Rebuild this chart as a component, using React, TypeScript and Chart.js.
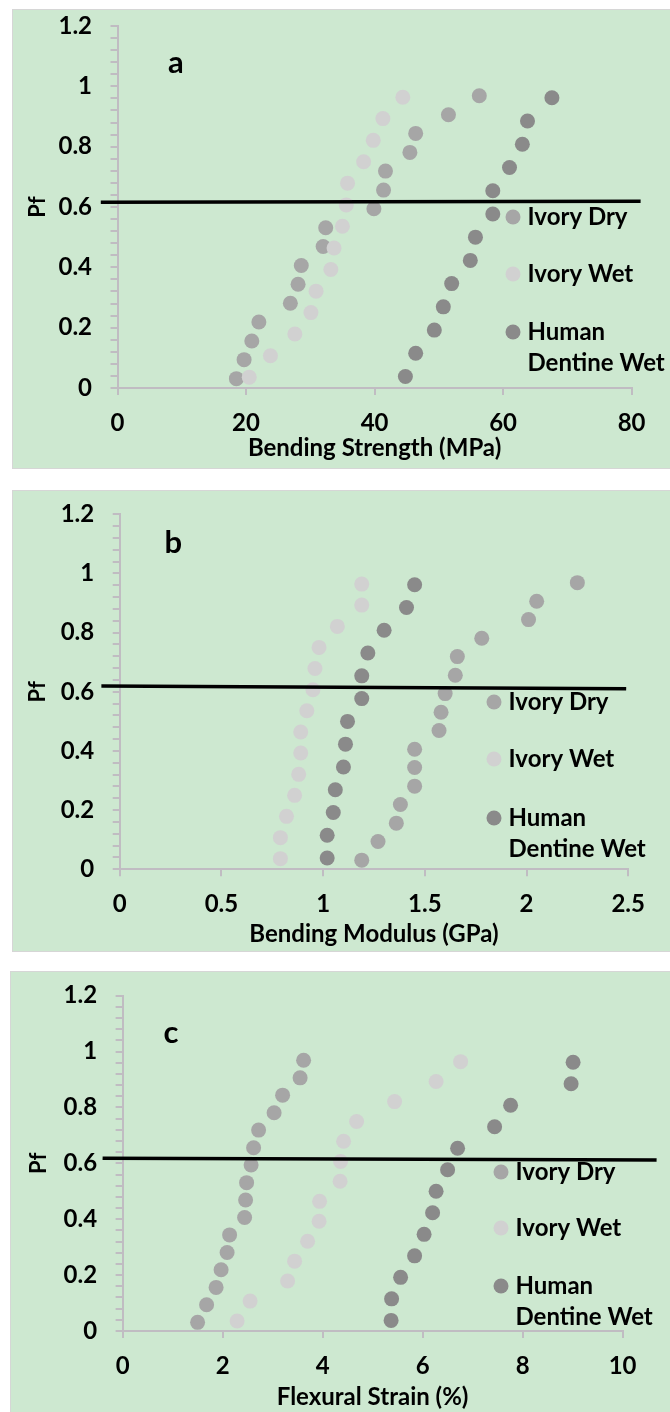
import { useEffect, useRef } from 'react';
import { Chart, registerables } from 'chart.js';

Chart.register(...registerables);

// ---------- data ----------
const seriesNames = ['Ivory Dry', 'Ivory Wet', 'Human Dentine Wet'];
const legendLines = [['Ivory Dry'], ['Ivory Wet'], ['Human', 'Dentine Wet']];
const seriesColors = ['#a6a6a6', '#d1d1d1', '#8a8a8a'];

const pfDry = [0.031, 0.094, 0.156, 0.219, 0.281, 0.344, 0.406, 0.469, 0.531, 0.594, 0.656, 0.719, 0.781, 0.844, 0.906, 0.969];
const pfWet = [0.036, 0.107, 0.179, 0.25, 0.321, 0.393, 0.464, 0.536, 0.607, 0.679, 0.75, 0.821, 0.893, 0.964];
const pfHuman = [0.038, 0.115, 0.192, 0.269, 0.346, 0.423, 0.5, 0.577, 0.654, 0.731, 0.808, 0.885, 0.962];

const strengthDry = [18.5, 19.7, 20.9, 22.0, 26.9, 28.1, 28.6, 32.0, 32.4, 39.9, 41.4, 41.7, 45.5, 46.4, 51.5, 56.3];
const strengthWet = [20.5, 23.8, 27.6, 30.1, 30.9, 33.2, 33.7, 35.0, 35.6, 35.8, 38.3, 39.8, 41.3, 44.4];
const strengthHuman = [44.8, 46.4, 49.3, 50.7, 52.0, 54.9, 55.7, 58.4, 58.4, 61.0, 63.0, 63.8, 67.6];

const modulusDry = [1.19, 1.27, 1.36, 1.38, 1.45, 1.45, 1.45, 1.57, 1.58, 1.60, 1.65, 1.66, 1.78, 2.01, 2.05, 2.25];
const modulusWet = [0.79, 0.79, 0.82, 0.86, 0.88, 0.89, 0.89, 0.92, 0.95, 0.96, 0.98, 1.07, 1.19, 1.19];
const modulusHuman = [1.02, 1.02, 1.05, 1.06, 1.10, 1.11, 1.12, 1.19, 1.19, 1.22, 1.30, 1.41, 1.45];

const strainDry = [1.50, 1.68, 1.87, 1.97, 2.09, 2.14, 2.44, 2.46, 2.48, 2.57, 2.62, 2.72, 3.03, 3.20, 3.55, 3.62];
const strainWet = [2.29, 2.55, 3.30, 3.44, 3.70, 3.93, 3.94, 4.35, 4.36, 4.42, 4.68, 5.44, 6.27, 6.76];
const strainHuman = [5.37, 5.38, 5.56, 5.84, 6.03, 6.20, 6.27, 6.50, 6.70, 7.44, 7.76, 8.97, 9.01];

// reference line ends (x, Pf)
const lineAX = [-2.6, 81.4];
const lineAY = [0.616, 0.619];
const lineBX = [-0.09, 2.49];
const lineBY = [0.62, 0.61];
const lineCX = [-0.4, 10.68];
const lineCY = [0.618, 0.612];

const panelLetters = ['a', 'b', 'c'];
const xTitles = ['Bending Strength (MPa)', 'Bending Modulus (GPa)', 'Flexural Strain (%)'];
const xMaxes = [80, 2.5, 10];
const xSteps = [20, 0.5, 2];
const yTitle = 'Pf';
const yMax = 1.2;
const yMinorStep = 0.04;
const yMajorStep = 0.2;

// ---------- styles ----------
const FONT = 'Lato';
const GREEN = '#cde8d0';
const AXIS = '#c0bcc2';

type Layout = {
  box: { left: number; top: number; width: number; height: number };
  yW: number; xH: number; padTop: number; padRight: number;
  xTitlePad: number; yTitlePad: number;
  letter: { x: number; y: number };
  legend: { x: number; y: number[]; textDx: number };
};

const layouts: Layout[] = [
  {
    box: { left: 13, top: 10, width: 700, height: 458 },
    yW: 104.5, xH: 80, padTop: 16, padRight: 81.4, xTitlePad: 5.6, yTitlePad: 11.8,
    letter: { x: 7.86, y: 1.044 },
    legend: { x: 395.5, y: [191, 248, 306], textDx: 14.5 },
  },
  {
    box: { left: 13, top: 491, width: 700, height: 460 },
    yW: 106.7, xH: 81.7, padTop: 23.3, padRight: 84.8, xTitlePad: 2.6, yTitlePad: 11.8,
    letter: { x: 0.22, y: 1.069 },
    legend: { x: 374.3, y: [187.7, 244.7, 303.7], textDx: 14.5 },
  },
  {
    box: { left: 11, top: 972, width: 700, height: 450 },
    yW: 111.6, xH: 91, padTop: 23.7, padRight: 88.4, xTitlePad: 10.6, yTitlePad: 14.3,
    letter: { x: 0.82, y: 1.031 },
    legend: { x: 378.4, y: [176.3, 232.3, 290.3], textDx: 14.5 },
  },
];

const panelData = [
  { dry: strengthDry, wet: strengthWet, human: strengthHuman, lx: lineAX, ly: lineAY },
  { dry: modulusDry, wet: modulusWet, human: modulusHuman, lx: lineBX, ly: lineBY },
  { dry: strainDry, wet: strainWet, human: strainHuman, lx: lineCX, ly: lineCY },
];

function pts(xs: number[], ys: number[]) {
  return xs.map((x, i) => ({ x, y: ys[i] }));
}

function Panel({ idx }: { idx: number }) {
  const ref = useRef<HTMLCanvasElement | null>(null);
  const L = layouts[idx];
  const D = panelData[idx];
  useEffect(() => {
    if (!ref.current) return;
    const overlay = {
      id: 'overlay' + idx,
      afterDraw(chart: any) {
        const ctx = chart.ctx;
        const ca = chart.chartArea;
        const xs = chart.scales.x;
        const ys = chart.scales.y;
        ctx.save();
        // panel letter
        ctx.fillStyle = '#000';
        ctx.font = `bold 31px ${FONT}`;
        ctx.textAlign = 'left';
        ctx.textBaseline = 'alphabetic';
        ctx.fillText(panelLetters[idx], xs.getPixelForValue(L.letter.x), ys.getPixelForValue(L.letter.y));
        // legend
        ctx.font = `bold 24px ${FONT}`;
        ctx.textBaseline = 'middle';
        legendLines.forEach((lines, i) => {
          const cx = ca.left + L.legend.x;
          const cy = ca.top + L.legend.y[i];
          ctx.beginPath();
          ctx.arc(cx, cy, 7.5, 0, Math.PI * 2);
          ctx.fillStyle = seriesColors[i];
          ctx.fill();
          ctx.fillStyle = '#000';
          lines.forEach((t, j) => {
            ctx.fillText(t, cx + L.legend.textDx, cy + j * 31.5);
          });
        });
        ctx.restore();
      },
    };
    const tickFont = { family: FONT, size: 24, weight: 'bold' as const };
    const chart = new Chart(ref.current, {
      type: 'scatter',
      data: {
        datasets: [
          {
            type: 'line',
            label: 'line',
            data: pts(D.lx, D.ly),
            borderColor: '#000',
            borderWidth: 3.5,
            pointRadius: 0,
            showLine: true,
            fill: false,
            clip: false as any,
            order: 0,
          } as any,
          { label: seriesNames[2], data: pts(D.human, pfHuman), backgroundColor: seriesColors[2], pointRadius: 7.5, borderWidth: 0, order: 1 },
          { label: seriesNames[1], data: pts(D.wet, pfWet), backgroundColor: seriesColors[1], pointRadius: 7.5, borderWidth: 0, order: 2 },
          { label: seriesNames[0], data: pts(D.dry, pfDry), backgroundColor: seriesColors[0], pointRadius: 7.5, borderWidth: 0, order: 3 },
        ],
      },
      options: {
        animation: false,
        responsive: false,
        devicePixelRatio: 1,
        events: [],
        layout: { padding: { top: L.padTop, right: L.padRight, left: 0, bottom: 0 } },
        plugins: { legend: { display: false }, tooltip: { enabled: false } },
        scales: {
          x: {
            type: 'linear',
            min: 0,
            max: xMaxes[idx],
            afterFit: (s: any) => { s.height = L.xH; s.paddingLeft = 0; s.paddingRight = 0; },
            ticks: {
              stepSize: xSteps[idx],
              font: tickFont,
              color: '#000',
              padding: 13.6,
              maxRotation: 0,
              callback: (v: any) => String(Math.round(Number(v) * 100) / 100),
            },
            grid: { drawOnChartArea: false, drawTicks: true, tickLength: 7, color: AXIS, lineWidth: 2 },
            border: { display: true, color: AXIS, width: 2 },
            title: { display: true, text: xTitles[idx], font: tickFont, color: '#000', padding: { top: 0, bottom: L.xTitlePad } },
          },
          y: {
            type: 'linear',
            min: 0,
            max: yMax,
            afterFit: (s: any) => { s.width = L.yW; s.paddingTop = 0; s.paddingBottom = 0; },
            ticks: {
              stepSize: yMinorStep,
              autoSkip: false,
              font: tickFont,
              color: '#000',
              padding: 18.5,
              callback: (v: any) => {
                const n = Number(v);
                const r = n / yMajorStep;
                if (Math.abs(r - Math.round(r)) > 1e-6) return '';
                return String(Math.round(n * 10) / 10);
              },
            },
            grid: { drawOnChartArea: false, drawTicks: true, tickLength: 7, color: AXIS, lineWidth: 2 },
            border: { display: true, color: AXIS, width: 2 },
            title: { display: true, text: yTitle, font: { family: FONT, size: 22, weight: 'bold' }, color: '#000', padding: { top: L.yTitlePad, bottom: 0 } },
          },
        },
      } as any,
      plugins: [overlay],
    });
    return () => chart.destroy();
  }, [idx]);
  return (
    <div
      style={{
        position: 'absolute',
        left: L.box.left,
        top: L.box.top,
        width: L.box.width,
        height: L.box.height,
        background: GREEN,
        outline: '1px solid #d6d6d6',
      }}
    >
      <canvas ref={ref} width={L.box.width} height={L.box.height} style={{ display: 'block' }} />
    </div>
  );
}

export default function App() {
  return (
    <div
      style={{
        position: 'fixed',
        left: 0,
        top: 0,
        width: 670,
        height: 1412,
        overflow: 'hidden',
        background: '#fff',
      }}
    >
      {layouts.map((_, i) => (
        <Panel key={i} idx={i} />
      ))}
    </div>
  );
}
